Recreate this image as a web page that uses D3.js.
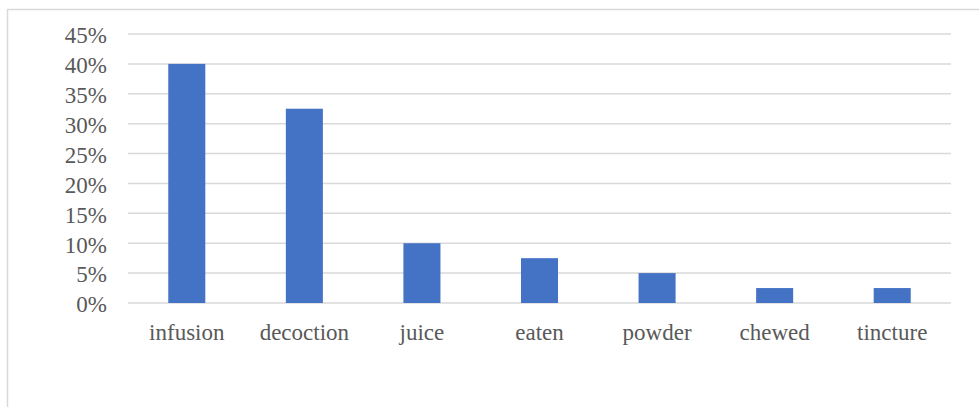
<!DOCTYPE html>
<html>
<head>
<meta charset="utf-8">
<script src="https://cdn.jsdelivr.net/npm/d3@7"></script>
<style>
  html, body { margin: 0; padding: 0; background: #ffffff; }
  svg { display: block; }
  .lbl { font-family: "Liberation Serif", "DejaVu Serif", serif; font-size: 23px; fill: #595959; }
</style>
</head>
<body>
<div id="chart"></div>
<script>
// Preparation methods and their share of reported uses
const categories = ["infusion", "decoction", "juice", "eaten", "powder", "chewed", "tincture"];
const shares = [0.40, 0.325, 0.10, 0.075, 0.05, 0.025, 0.025];
const tickValues = [0, 0.05, 0.10, 0.15, 0.20, 0.25, 0.30, 0.35, 0.40, 0.45];

const width = 979, height = 407;
const plot = { left: 128, right: 951, top: 34, bottom: 303 };

const svg = d3.select("#chart").append("svg")
  .attr("width", width)
  .attr("height", height);

// Chart frame
svg.append("rect")
  .attr("x", 7.5).attr("y", 9.5)
  .attr("width", 1000).attr("height", 420)
  .attr("fill", "none")
  .attr("stroke", "#d9d9d9")
  .attr("stroke-width", 1.5);

const x = d3.scaleBand()
  .domain(categories)
  .range([plot.left, plot.right])
  .paddingInner(0.685)
  .paddingOuter(0.3425);

const y = d3.scaleLinear()
  .domain([0, 0.45])
  .range([plot.bottom, plot.top]);

// Horizontal gridlines
svg.append("g")
  .selectAll("line")
  .data(tickValues)
  .join("line")
  .attr("x1", plot.left).attr("x2", plot.right)
  .attr("y1", d => y(d)).attr("y2", d => y(d))
  .attr("stroke", "#d9d9d9")
  .attr("stroke-width", 1.5);

// Bars
svg.append("g")
  .selectAll("rect")
  .data(categories.map((c, i) => ({ c, v: shares[i] })))
  .join("rect")
  .attr("x", d => x(d.c))
  .attr("width", x.bandwidth())
  .attr("y", d => y(d.v))
  .attr("height", d => y(0) - y(d.v))
  .attr("fill", "#4472c4");

// Y axis labels
const yAxis = svg.append("g")
  .attr("transform", `translate(${plot.left - 21},1.5)`)
  .call(d3.axisLeft(y).tickValues(tickValues).tickFormat(d3.format(".0%")).tickSize(0).tickPadding(0));
yAxis.attr("font-family", null).attr("font-size", null);
yAxis.select(".domain").remove();
yAxis.selectAll("text").attr("class", "lbl");

// X axis labels
const xAxis = svg.append("g")
  .attr("transform", `translate(0,${plot.bottom})`)
  .call(d3.axisBottom(x).tickSize(0).tickPadding(21));
xAxis.attr("font-family", null).attr("font-size", null);
xAxis.select(".domain").remove();
xAxis.selectAll("text").attr("class", "lbl");
</script>
</body>
</html>
